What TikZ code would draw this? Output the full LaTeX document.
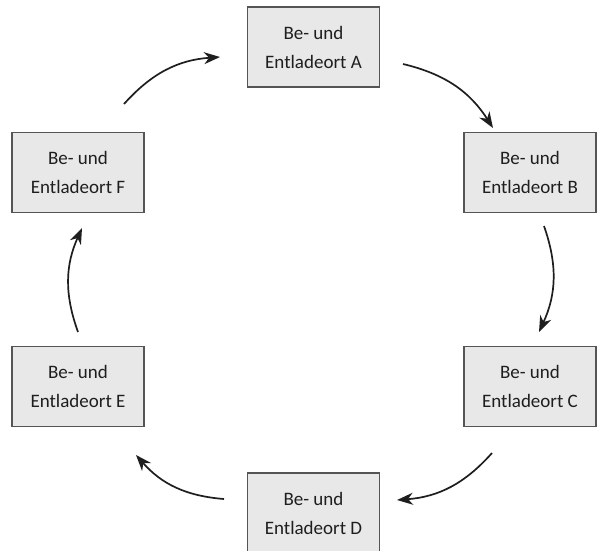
\documentclass[tikz,border=0pt]{standalone}
\usepackage{fontspec}
\setmainfont{Carlito}
\usetikzlibrary{arrows.meta}
\definecolor{boxfill}{HTML}{E8E8E8}
\definecolor{boxline}{HTML}{555555}
\definecolor{ink}{HTML}{1E1E1E}
\begin{document}
\begin{tikzpicture}[x=1pt,y=-1pt,
  place/.style={draw=boxline, line width=1.4pt, fill=boxfill,
    minimum width=132pt, minimum height=80pt, inner sep=0pt,
    align=center, text=ink,
    font=\fontsize{19}{29}\selectfont},
  flow/.style={draw=ink, line width=1.7pt, bend left=22,
    -{Stealth[length=16pt, width=12pt, inset=5pt]}}
]
\useasboundingbox (0,0) rectangle (597,550);
\begin{scope}
\clip (0,0) rectangle (597,550);
% loading points around the circuit
\node[place] (A) at (313.5,47) {Be- und\\Entladeort A};
\node[place] (B) at (530,172.5) {Be- und\\Entladeort B};
\node[place] (C) at (530,386.5) {Be- und\\Entladeort C};
\node[place] (D) at (313.5,513) {Be- und\\Entladeort D};
\node[place] (E) at (78,386.5) {Be- und\\Entladeort E};
\node[place] (F) at (78,172.5) {Be- und\\Entladeort F};
\end{scope}
% end points of the curved arrows
\coordinate (ab1) at (403,64);  \coordinate (ab2) at (493,128);
\coordinate (bc1) at (544,226); \coordinate (bc2) at (539,332);
\coordinate (cd1) at (492,453); \coordinate (cd2) at (397,500);
\coordinate (de1) at (224,499); \coordinate (de2) at (136,455);
\coordinate (ef1) at (78,332);  \coordinate (ef2) at (82,228);
\coordinate (fa1) at (124,104); \coordinate (fa2) at (220,57);
% clockwise arrows
\draw[flow] (ab1) to (ab2);
\draw[flow] (bc1) to (bc2);
\draw[flow] (cd1) to (cd2);
\draw[flow] (de1) to (de2);
\draw[flow] (ef1) to (ef2);
\draw[flow] (fa1) to (fa2);
\end{tikzpicture}
\end{document}
